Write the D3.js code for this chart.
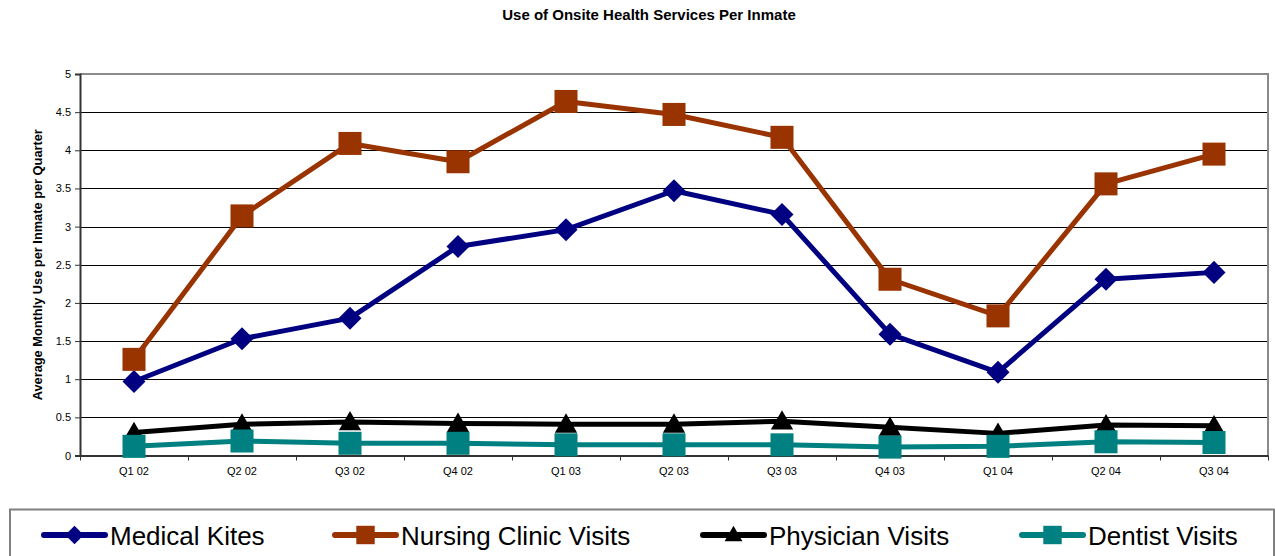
<!DOCTYPE html>
<html>
<head>
<meta charset="utf-8">
<script src="https://cdn.jsdelivr.net/npm/d3@7"></script>
<style>
  body { margin: 0; background: #fff; }
  svg { display: block; font-family: Arial, "Liberation Sans", sans-serif; }
</style>
</head>
<body>
<div id="chart"></div>
<script>
'use strict'

const quarters = ['Q1 02', 'Q2 02', 'Q3 02', 'Q4 02', 'Q1 03', 'Q2 03', 'Q3 03', 'Q4 03', 'Q1 04', 'Q2 04', 'Q3 04']
const medicalKites = [0.97, 1.53, 1.80, 2.74, 2.96, 3.47, 3.16, 1.59, 1.09, 2.31, 2.40]
const nursingVisits = [1.26, 3.14, 4.09, 3.85, 4.64, 4.47, 4.17, 2.31, 1.83, 3.56, 3.95]
const physicianVisits = [0.30, 0.41, 0.44, 0.42, 0.41, 0.41, 0.45, 0.37, 0.29, 0.40, 0.39]
const dentistVisits = [0.12, 0.19, 0.16, 0.16, 0.14, 0.14, 0.14, 0.11, 0.12, 0.18, 0.17]
const yTicks = [0, 0.5, 1, 1.5, 2, 2.5, 3, 3.5, 4, 4.5, 5]

const series = [
  { name: 'Medical Kites', values: medicalKites, color: '#000080', marker: 'diamond' },
  { name: 'Nursing Clinic Visits', values: nursingVisits, color: '#993300', marker: 'square' },
  { name: 'Physician Visits', values: physicianVisits, color: '#000000', marker: 'triangle' },
  { name: 'Dentist Visits', values: dentistVisits, color: '#008080', marker: 'square' }
]

const W = 1275, H = 556
const plot = { left: 80, right: 1268, top: 74, bottom: 455.5 }

const svg = d3.select('#chart').append('svg')
  .attr('width', W)
  .attr('height', H)

const x = d3.scaleBand()
  .domain(quarters)
  .range([plot.left, plot.right])
  .padding(0)
const cx = d => x(d) + x.bandwidth() / 2

const y = d3.scaleLinear()
  .domain([0, 5])
  .range([plot.bottom, plot.top])

// title
svg.append('text')
  .attr('x', 649)
  .attr('y', 20)
  .attr('text-anchor', 'middle')
  .style('font-size', '15px')
  .style('font-weight', 'bold')
  .text('Use of Onsite Health Services Per Inmate')

// gridlines
svg.append('g')
  .selectAll('line')
  .data(yTicks.filter(d => d > 0 && d < 5))
  .join('line')
  .attr('x1', plot.left)
  .attr('x2', plot.right)
  .attr('y1', d => Math.round(y(d)) + 0.5)
  .attr('y2', d => Math.round(y(d)) + 0.5)
  .style('stroke', '#000')
  .style('stroke-width', 1)

// plot border (top / right)
svg.append('path')
  .attr('d', `M${plot.left},${plot.top}H${plot.right}V${plot.bottom}`)
  .style('fill', 'none')
  .style('stroke', '#8a8a8a')
  .style('stroke-width', 2)

// y axis
const yAxis = d3.axisLeft(y).tickValues(yTicks).tickSize(5).tickPadding(4)
  .tickFormat(d => String(d))
const gY = svg.append('g')
  .attr('transform', `translate(${plot.left},0)`)
  .call(yAxis)
gY.select('.domain').style('stroke', '#333').style('stroke-width', 2)
gY.selectAll('.tick line').style('stroke', '#333')
gY.selectAll('text').style('font-size', '11px').style('font-family', 'Arial, "Liberation Sans", sans-serif').attr('fill', '#000')

// x axis: labels at centres, ticks at boundaries
const xAxis = d3.axisBottom(x).tickSize(0).tickPadding(12)
const gX = svg.append('g')
  .attr('transform', `translate(0,${plot.bottom})`)
  .call(xAxis)
gX.select('.domain').style('stroke', '#333').style('stroke-width', 2)
gX.selectAll('text').style('font-size', '11px').style('font-family', 'Arial, "Liberation Sans", sans-serif').attr('fill', '#000')

svg.append('g')
  .selectAll('line')
  .data(quarters.concat(['end']))
  .join('line')
  .attr('x1', (d, i) => Math.round(plot.left + i * x.bandwidth()) + 0.5)
  .attr('x2', (d, i) => Math.round(plot.left + i * x.bandwidth()) + 0.5)
  .attr('y1', plot.bottom)
  .attr('y2', plot.bottom + 5)
  .style('stroke', '#333')

// y axis title
svg.append('text')
  .attr('transform', `translate(42,${(plot.top + plot.bottom) / 2}) rotate(-90)`)
  .attr('text-anchor', 'middle')
  .style('font-size', '12.8px')
  .style('font-weight', 'bold')
  .text('Average Monthly Use per Inmate per Quarter')

function markerPath (type, scale) {
  if (type === 'diamond') return d3.symbol(d3.symbolSquare, 265 * scale * scale)()
  if (type === 'square') return d3.symbol(d3.symbolSquare, 530 * scale * scale)()
  return d3.symbol(d3.symbolTriangle, 215 * scale * scale)()
}
function markerRotate (type) {
  return type === 'diamond' ? ' rotate(45)' : ''
}

const line = d3.line()
  .x((d, i) => cx(quarters[i]))
  .y(d => y(d))

series.forEach(s => {
  const g = svg.append('g')
  g.append('path')
    .datum(s.values)
    .attr('d', line)
    .style('fill', 'none')
    .style('stroke', s.color)
    .style('stroke-width', 5)
    .style('stroke-linejoin', 'round')

  g.selectAll('path.marker')
    .data(s.values)
    .join('path')
    .attr('class', 'marker')
    .attr('d', markerPath(s.marker, 1))
    .attr('transform', (d, i) => `translate(${cx(quarters[i])},${y(d) + (s.marker === 'triangle' ? 2 : 0)})` + markerRotate(s.marker))
    .style('fill', s.color)
})

// legend
svg.append('rect')
  .attr('x', 10)
  .attr('y', 509.5)
  .attr('width', 1264)
  .attr('height', 60)
  .style('fill', 'none')
  .style('stroke', '#808080')
  .style('stroke-width', 2)

const legendX = [44, 335, 703, 1022]
const legend = svg.append('g')
  .selectAll('g')
  .data(series)
  .join('g')
  .attr('transform', (d, i) => `translate(${legendX[i]},535)`)

legend.append('line')
  .attr('x1', 0)
  .attr('x2', 61)
  .style('stroke', d => d.color)
  .style('stroke-width', 6)
  .style('stroke-linecap', 'round')

legend.append('path')
  .attr('d', d => markerPath(d.marker, 0.8))
  .attr('transform', d => `translate(30.5,${d.marker === 'triangle' ? 1 : 0})` + markerRotate(d.marker))
  .style('fill', d => d.color)

legend.append('text')
  .attr('x', 66)
  .attr('y', 10)
  .style('font-size', '26px')
  .text(d => d.name)
</script>
</body>
</html>
